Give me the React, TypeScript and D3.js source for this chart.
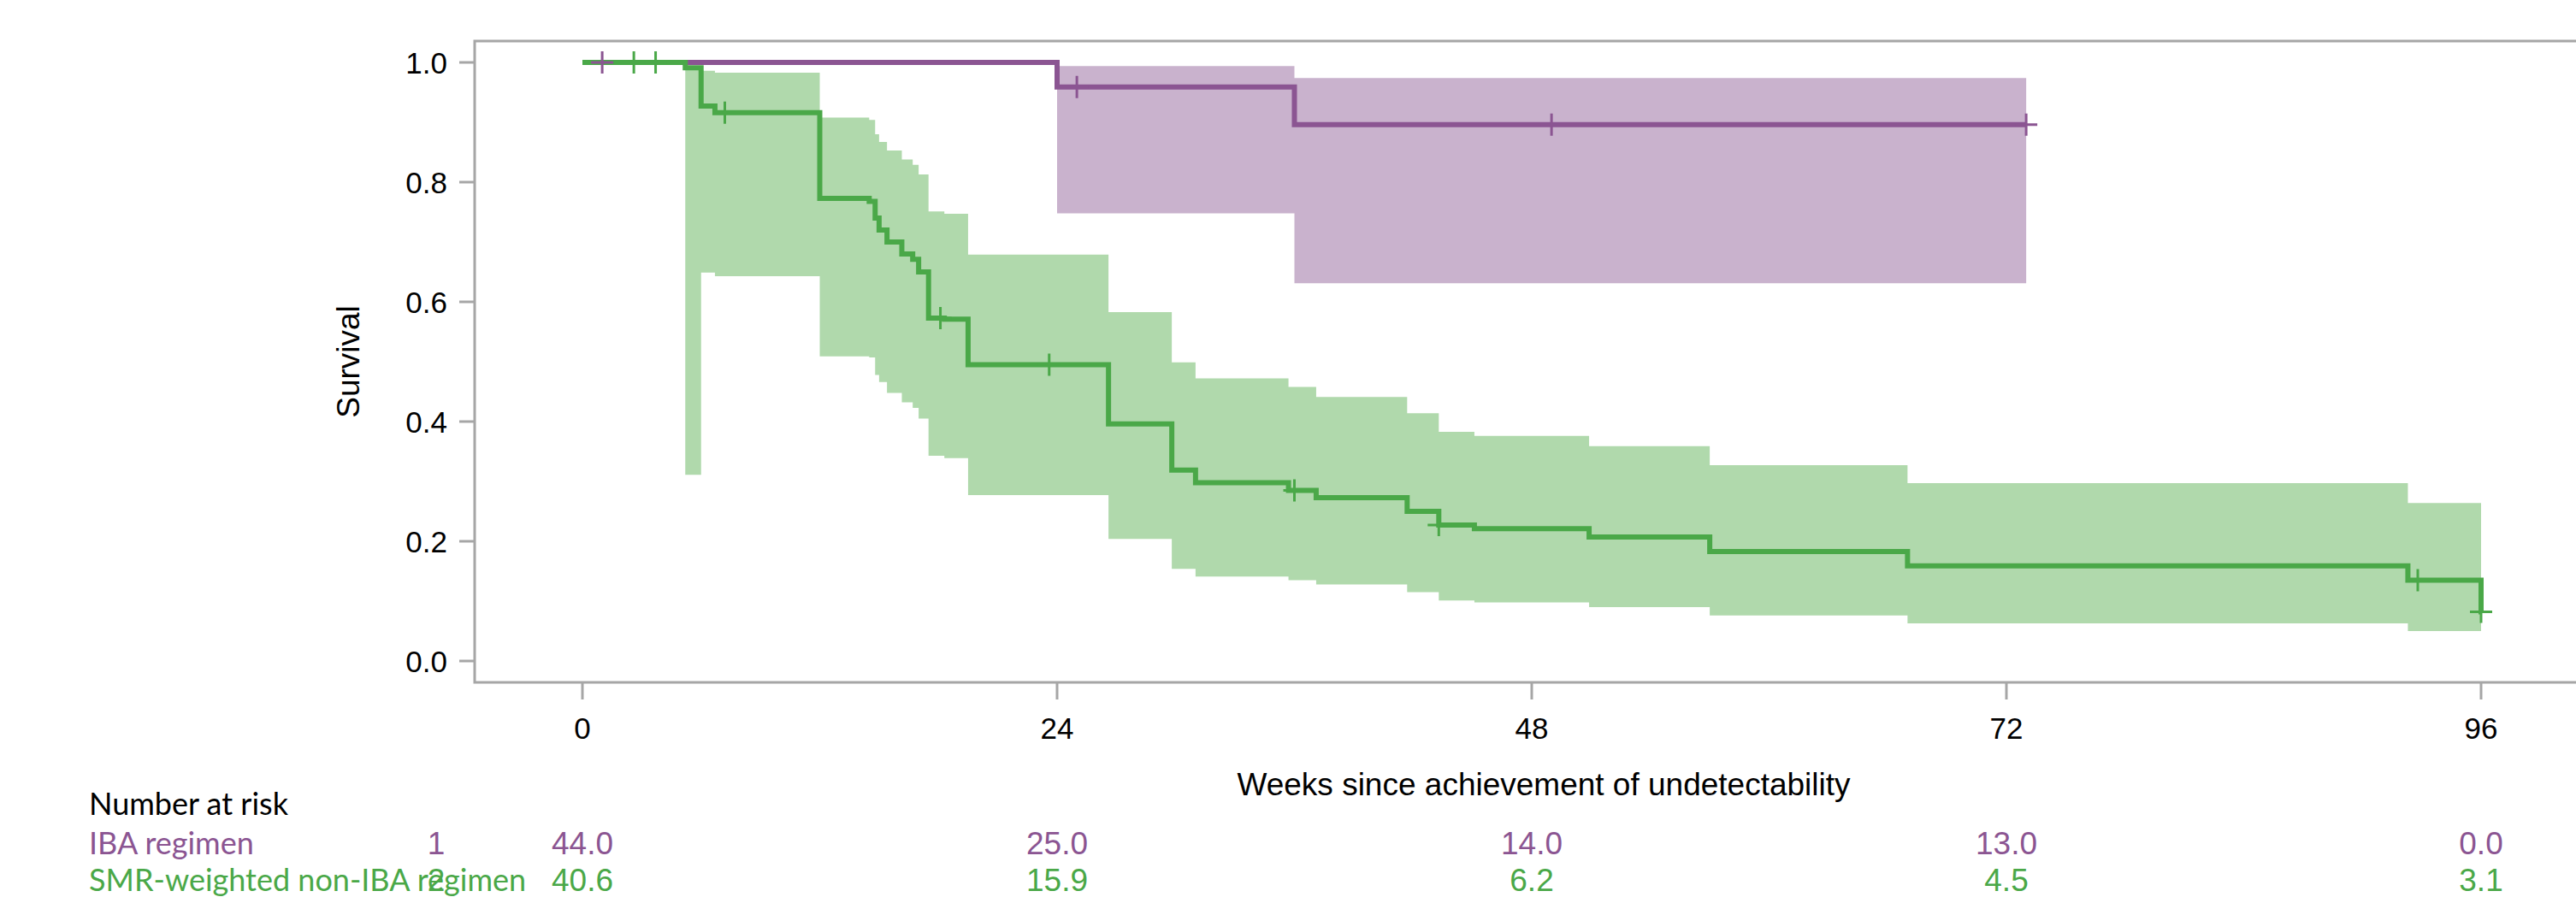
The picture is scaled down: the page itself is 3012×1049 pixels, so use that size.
import React, { useRef, useEffect } from "react";
import { select, scaleLinear, line, area, curveStepAfter } from "d3";

// axis ticks
const weekTicks = [0, 24, 48, 72, 96];
const survTicks = [0, 0.2, 0.4, 0.6, 0.8, 1.0];

// IBA regimen (purple)
const ibaTimes = [0, 24.0, 36.0];
const ibaSurv = [1.0, 0.959, 0.896];
const ibaUpper = [1.0, 0.994, 0.974];
const ibaLower = [1.0, 0.748, 0.631];
const ibaEnd = 73.0;
const ibaCensor = [1.0, 25.0, 49.0, 73.0];

// SMR-weighted non-IBA regimen (green)
const smrTimes = [0, 5.2, 6.0, 6.7, 12.0, 14.5, 14.8, 15.0, 15.4, 16.15, 16.7, 17.0, 17.5, 18.3, 19.5, 26.6, 29.8, 31.0, 35.7, 37.1, 41.7, 43.3, 45.1, 50.9, 57.0, 67.0, 92.3, 96.0];
const smrSurv = [1.0, 0.991, 0.927, 0.916, 0.773, 0.768, 0.74, 0.72, 0.70, 0.68, 0.671, 0.65, 0.573, 0.571, 0.495, 0.396, 0.319, 0.298, 0.285, 0.273, 0.250, 0.227, 0.221, 0.207, 0.183, 0.159, 0.135, 0.082];
const smrUpper = [1.0, 0.99, 0.986, 0.983, 0.908, 0.904, 0.880, 0.867, 0.853, 0.838, 0.829, 0.813, 0.751, 0.747, 0.679, 0.583, 0.499, 0.472, 0.458, 0.441, 0.414, 0.383, 0.376, 0.359, 0.327, 0.297, 0.264, 0.264];
const smrLower = [1.0, 0.311, 0.649, 0.643, 0.509, 0.507, 0.478, 0.466, 0.448, 0.432, 0.423, 0.405, 0.343, 0.339, 0.277, 0.204, 0.154, 0.141, 0.135, 0.128, 0.115, 0.101, 0.098, 0.090, 0.076, 0.063, 0.050, 0.050];
const smrEnd = 96.0;
const smrCensor = [2.6, 3.7, 7.2, 18.1, 23.6, 36.0, 43.3, 92.8, 96.0];

// number at risk
const riskIba = [44.0, 25.0, 14.0, 13.0, 0.0];
const riskSmr = [40.6, 15.9, 6.2, 4.5, 3.1];

const PURPLE = "#8b5592";
const PURPLE_FILL = "#c9b2cd";
const GREEN = "#4aa848";
const GREEN_FILL = "#b0d9ac";
const AXIS = "#a6a6a6";
const ARIAL = "'Liberation Sans', Arial, sans-serif";
const LABEL = "Lato, 'Open Sans', sans-serif";

const W = 3012;
const H = 1049;

const App = () => {
    const svgRef = useRef(null);

    useEffect(() => {
        const svg = select(svgRef.current);
        svg.selectAll("*").remove();

        const xScale = scaleLinear().domain([0, 96]).range([681, 2901]);
        const yScale = scaleLinear().domain([0, 1]).range([773, 73]);

        const frame = { left: 555, top: 48, bottom: 798, right: 3060 };

        // build step series with a closing point at the end time
        const makeSeries = (times, surv, lo, hi, end) => {
            const pts = times.map((t, i) => ({ t, s: surv[i], lo: lo[i], hi: hi[i] }));
            const last = pts[pts.length - 1];
            if (end > last.t) pts.push({ ...last, t: end });
            else pts.push({ ...last, t: end + 0.001 });
            return pts;
        };
        const survAt = (times, surv, t) => {
            let v = surv[0];
            times.forEach((tt, i) => { if (tt <= t + 1e-9) v = surv[i]; });
            return v;
        };

        const iba = makeSeries(ibaTimes, ibaSurv, ibaLower, ibaUpper, ibaEnd);
        const smr = makeSeries(smrTimes, smrSurv, smrLower, smrUpper, smrEnd);

        const band = area()
            .curve(curveStepAfter)
            .x(d => xScale(d.t))
            .y0(d => yScale(d.lo))
            .y1(d => yScale(d.hi));
        const km = line()
            .curve(curveStepAfter)
            .x(d => xScale(d.t))
            .y(d => yScale(d.s));

        // frame
        svg.append("path")
            .attr("d", `M${frame.right},${frame.top}H${frame.left}V${frame.bottom}H${frame.right}`)
            .attr("fill", "none")
            .attr("stroke", AXIS)
            .attr("stroke-width", 3);

        // y axis ticks
        const yAxis = svg.append("g");
        survTicks.forEach(v => {
            yAxis.append("line")
                .attr("x1", frame.left - 18).attr("x2", frame.left)
                .attr("y1", yScale(v)).attr("y2", yScale(v))
                .attr("stroke", AXIS).attr("stroke-width", 3);
            yAxis.append("text")
                .attr("x", frame.left - 32)
                .attr("y", yScale(v))
                .attr("dy", "0.36em")
                .attr("text-anchor", "end")
                .attr("font-family", ARIAL)
                .attr("font-size", 35)
                .text(v.toFixed(1));
        });

        // x axis ticks
        const xAxis = svg.append("g");
        weekTicks.forEach(v => {
            xAxis.append("line")
                .attr("x1", xScale(v)).attr("x2", xScale(v))
                .attr("y1", frame.bottom).attr("y2", frame.bottom + 20)
                .attr("stroke", AXIS).attr("stroke-width", 3);
            xAxis.append("text")
                .attr("x", xScale(v))
                .attr("y", 864)
                .attr("text-anchor", "middle")
                .attr("font-family", ARIAL)
                .attr("font-size", 35)
                .text(v);
        });

        // axis titles
        svg.append("text")
            .attr("transform", `translate(420,${(frame.top + frame.bottom) / 2}) rotate(-90)`)
            .attr("text-anchor", "middle")
            .attr("font-family", ARIAL)
            .attr("font-size", 37)
            .text("Survival");
        svg.append("text")
            .attr("x", 1805)
            .attr("y", 930)
            .attr("text-anchor", "middle")
            .attr("font-family", ARIAL)
            .attr("font-size", 37)
            .text("Weeks since achievement of undetectability");

        // confidence bands
        svg.append("path").datum(iba).attr("d", band).attr("fill", PURPLE_FILL);
        svg.append("path").datum(smr).attr("d", band).attr("fill", GREEN_FILL);

        // survival curves
        svg.append("path").datum(iba).attr("d", km)
            .attr("fill", "none").attr("stroke", PURPLE).attr("stroke-width", 6);
        svg.append("path").datum(smr).attr("d", km)
            .attr("fill", "none").attr("stroke", GREEN).attr("stroke-width", 6);

        // censor marks
        const drawCensor = (times, surv, cens, color) => {
            cens.forEach(t => {
                const cx = xScale(t);
                const cy = yScale(survAt(times, surv, t));
                svg.append("path")
                    .attr("d", `M${cx - 13},${cy}H${cx + 13}M${cx},${cy - 13}V${cy + 13}`)
                    .attr("stroke", color)
                    .attr("stroke-width", 3)
                    .attr("fill", "none");
            });
        };
        drawCensor(ibaTimes, ibaSurv, ibaCensor, PURPLE);
        drawCensor(smrTimes, smrSurv, smrCensor, GREEN);

        // number at risk table
        const table = svg.append("g");
        table.append("text")
            .attr("x", 104).attr("y", 953)
            .attr("font-family", LABEL).attr("font-size", 36)
            .text("Number at risk");
        const rows = [
            { name: "IBA regimen", idx: "1", vals: riskIba, color: PURPLE, y: 999 },
            { name: "SMR-weighted non-IBA regimen", idx: "2", vals: riskSmr, color: GREEN, y: 1042 }
        ];
        rows.forEach(r => {
            table.append("text")
                .attr("x", 104).attr("y", r.y)
                .attr("fill", r.color)
                .attr("font-family", LABEL).attr("font-size", 36)
                .text(r.name);
            table.append("text")
                .attr("x", 510).attr("y", r.y)
                .attr("text-anchor", "middle")
                .attr("fill", r.color)
                .attr("font-family", ARIAL).attr("font-size", 37)
                .text(r.idx);
            r.vals.forEach((v, i) => {
                table.append("text")
                    .attr("x", xScale(weekTicks[i])).attr("y", r.y)
                    .attr("text-anchor", "middle")
                    .attr("fill", r.color)
                    .attr("font-family", ARIAL).attr("font-size", 37)
                    .text(v.toFixed(1));
            });
        });
    }, []);

    return (
        <svg
            ref={svgRef}
            width={W}
            height={H}
            style={{ position: "absolute", left: 0, top: 0, display: "block", background: "#fff" }}
        />
    );
};

export default App;
